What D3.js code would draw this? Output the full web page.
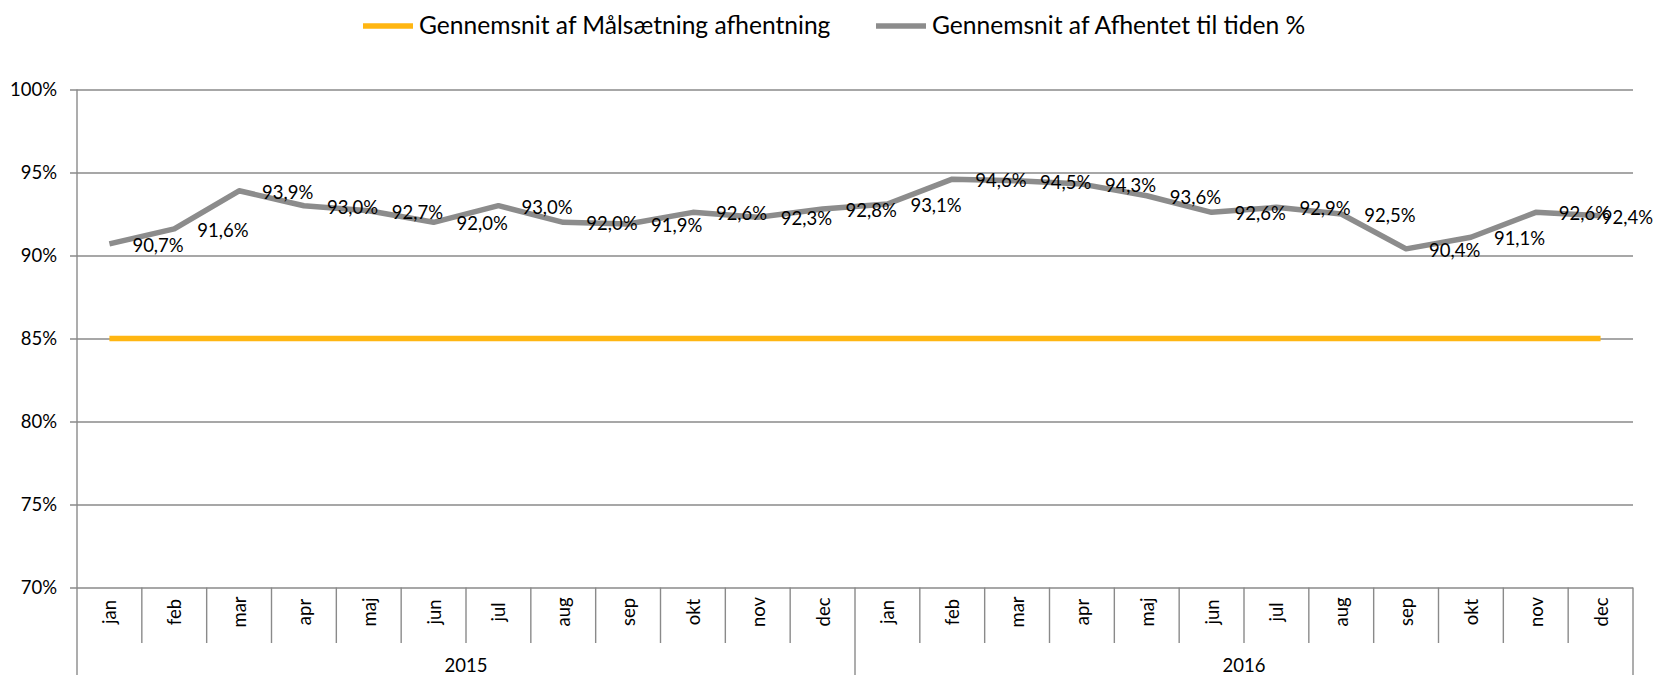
<!DOCTYPE html>
<html>
<head>
<meta charset="utf-8">
<script src="https://cdn.jsdelivr.net/npm/d3@7"></script>
<style>
  html, body { margin: 0; padding: 0; background: #fff; }
  svg { display: block; font-family: Lato, "Open Sans", sans-serif; }
</style>
</head>
<body>
<svg id="chart" width="1655" height="675"></svg>
<script>
// ---- data ----
const years = ["2015", "2016"];
const months = ["jan", "feb", "mar", "apr", "maj", "jun", "jul", "aug", "sep", "okt", "nov", "dec"];
const seriesNames = ["Gennemsnit af Målsætning afhentning", "Gennemsnit af Afhentet til tiden %"];
const targetValues = [0.85, 0.85, 0.85, 0.85, 0.85, 0.85, 0.85, 0.85, 0.85, 0.85, 0.85, 0.85,
                      0.85, 0.85, 0.85, 0.85, 0.85, 0.85, 0.85, 0.85, 0.85, 0.85, 0.85, 0.85];
const actualValues = [0.907, 0.916, 0.939, 0.930, 0.927, 0.920, 0.930, 0.920, 0.919, 0.926, 0.923, 0.928,
                      0.931, 0.946, 0.945, 0.943, 0.936, 0.926, 0.929, 0.925, 0.904, 0.911, 0.926, 0.924];
const yTickValues = [0.70, 0.75, 0.80, 0.85, 0.90, 0.95, 1.00];

// ---- layout ----
const W = 1655, H = 675;
const pLeft = 77, pRight = 1633, pTop = 89.5, pBottom = 587.5;
const colTarget = "#FFB612", colActual = "#8C8C8C", gridCol = "#8A8A8A";

const cats = [];
years.forEach(yr => months.forEach(m => cats.push(yr + "-" + m)));

const svg = d3.select("#chart");
const x = d3.scaleBand().domain(cats).range([pLeft, pRight]).paddingInner(0).paddingOuter(0);
const y = d3.scaleLinear().domain([0.70, 1.00]).range([pBottom, pTop]);
const loc = d3.formatLocale({decimal: ",", thousands: ".", grouping: [3], currency: ["", " kr."]});
const fmtAxis = loc.format(".0%");
const fmtLabel = loc.format(".1%");

// ---- y axis with gridlines ----
const yAxis = d3.axisLeft(y).tickValues(yTickValues).tickFormat(fmtAxis)
  .tickSize(-(pRight - pLeft)).tickPadding(20);
const gy = svg.append("g").attr("transform", `translate(${pLeft},0)`).call(yAxis);
gy.select(".domain").remove();
gy.selectAll(".tick line").attr("x1", -7).attr("stroke", gridCol).attr("stroke-width", 1.4);
gy.selectAll(".tick text").attr("font-size", 18.5).attr("fill", "#000").attr("font-family", "Lato");

// left axis vertical line
svg.append("line").attr("x1", pLeft).attr("x2", pLeft).attr("y1", pTop).attr("y2", H)
  .attr("stroke", gridCol).attr("stroke-width", 1.4);
// right border below axis
svg.append("line").attr("x1", pRight).attr("x2", pRight).attr("y1", pBottom).attr("y2", H)
  .attr("stroke", gridCol).attr("stroke-width", 1.4);

// ---- category separators ----
const bw = x.bandwidth();
const gx = svg.append("g");
cats.forEach((c, i) => {
  if (i === 0) return;
  const xx = x(c);
  const isYear = i % months.length === 0;
  gx.append("line").attr("x1", xx).attr("x2", xx).attr("y1", pBottom)
    .attr("y2", isYear ? H : 643).attr("stroke", gridCol).attr("stroke-width", 1.4);
});
// month labels (rotated)
gx.selectAll("text.month").data(cats).join("text").attr("class", "month")
  .attr("transform", d => `translate(${x(d) + bw / 2},612) rotate(-90)`)
  .attr("text-anchor", "middle").attr("dominant-baseline", "central")
  .attr("font-size", 18.5).attr("fill", "#000")
  .text(d => d.split("-")[1]);
// year labels
gx.selectAll("text.year").data(years).join("text").attr("class", "year")
  .attr("x", (d, i) => (x(cats[i * 12]) + x(cats[i * 12 + 11]) + bw) / 2)
  .attr("y", 665).attr("text-anchor", "middle").attr("dominant-baseline", "central")
  .attr("font-size", 18.5).attr("fill", "#000").text(d => d);

// ---- lines ----
const line = d3.line().x((d, i) => x(cats[i]) + bw / 2).y(d => y(d));
svg.append("path").datum(targetValues).attr("d", line).attr("fill", "none")
  .attr("stroke", colTarget).attr("stroke-width", 5.5);
svg.append("path").datum(actualValues).attr("d", line).attr("fill", "none")
  .attr("stroke", colActual).attr("stroke-width", 5.5).attr("stroke-linejoin", "round");

// ---- data labels ----
const labels = svg.append("g").selectAll("text").data(actualValues).join("text")
  .attr("y", d => y(d) + 1).attr("dominant-baseline", "central")
  .attr("font-size", 18.5).attr("fill", "#000")
  .text(d => fmtLabel(d));
labels.each(function(d, i) {
  const w = this.getComputedTextLength();
  const px = x(cats[i]) + bw / 2 + 23;
  d3.select(this).attr("x", Math.min(px, W - 2 - w));
});

// ---- legend ----
const legend = svg.append("g");
const legItems = [
  {name: seriesNames[0], color: colTarget, x0: 363},
  {name: seriesNames[1], color: colActual, x0: 876}
];
legItems.forEach(it => {
  legend.append("line").attr("x1", it.x0).attr("x2", it.x0 + 50).attr("y1", 26).attr("y2", 26)
    .attr("stroke", it.color).attr("stroke-width", 5.5);
  legend.append("text").attr("x", it.x0 + 56).attr("y", 24).attr("dominant-baseline", "central")
    .attr("font-size", 24.6).attr("fill", "#000").text(it.name);
});
</script>
</body>
</html>
